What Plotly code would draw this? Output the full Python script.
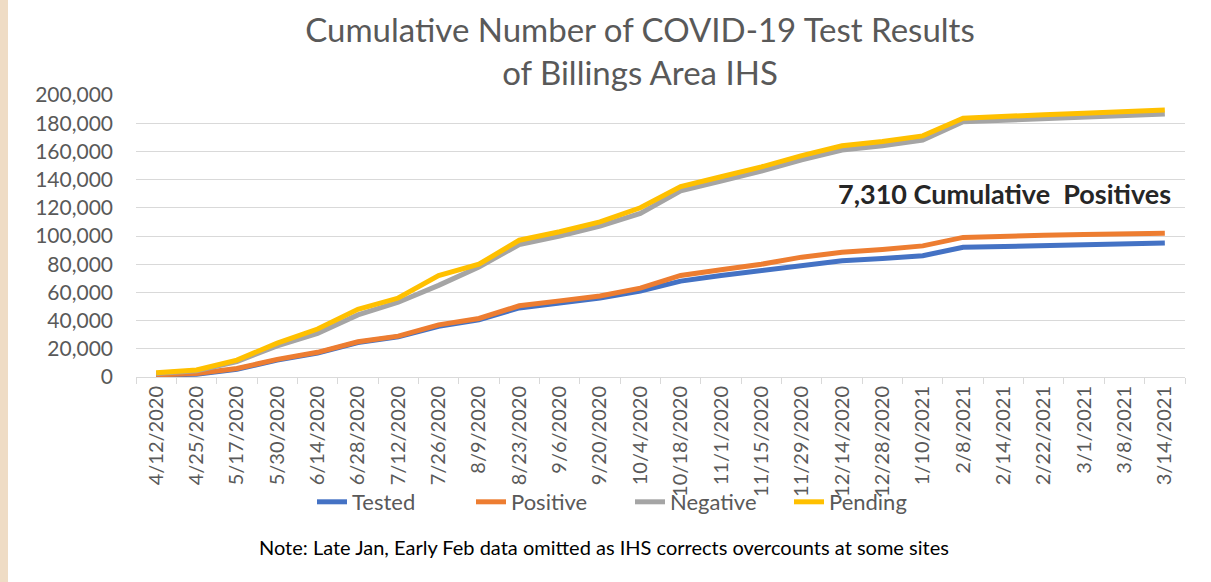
import plotly.graph_objects as go

dates = ["4/12/2020", "4/25/2020", "5/17/2020", "5/30/2020", "6/14/2020", "6/28/2020",
         "7/12/2020", "7/26/2020", "8/9/2020", "8/23/2020", "9/6/2020", "9/20/2020",
         "10/4/2020", "10/18/2020", "11/1/2020", "11/15/2020", "11/29/2020", "12/14/2020",
         "12/28/2020", "1/10/2021", "2/8/2021", "2/14/2021", "2/22/2021", "3/1/2021",
         "3/8/2021", "3/14/2021"]

tested = [1200, 2000, 5500, 12000, 17000, 24500, 28500, 36000, 40500, 49000, 52500, 56000,
          61000, 68000, 72000, 75500, 79500, 82500, 84000, 86000, 92000, 92700, 93300, 94000,
          94500, 95000]
positive = [1500, 2500, 6000, 12500, 17500, 25000, 29000, 37000, 41500, 50500, 54000, 57500,
            63000, 72000, 76000, 80000, 85000, 88500, 90500, 93000, 99000, 100000, 100500, 101000,
            101500, 102000]
negative = [2500, 4500, 11000, 22000, 31000, 44000, 53000, 65000, 78000, 94000, 100000, 107000,
            116000, 132000, 139000, 146000, 154000, 161000, 164000, 168000, 181000, 182000, 183000,
            184000, 185000, 186500]
pending = [3000, 5000, 12000, 24000, 34000, 48000, 56000, 72000, 80000, 97000, 103000, 110000,
           120000, 135000, 142000, 149000, 157000, 164000, 167000, 171000, 183500, 185000, 186000,
           187000, 188000, 189400]

series = [("Tested", tested, "#4472C4"), ("Positive", positive, "#ED7D31"),
          ("Negative", negative, "#A5A5A5"), ("Pending", pending, "#FFC000")]

FONT = "Lato, Carlito, Calibri, sans-serif"
GRAY = "#595959"

fig = go.Figure()
for name, vals, col in series:
    fig.add_trace(go.Scatter(x=dates, y=vals, name=name, mode="lines",
                             line=dict(color=col, width=5)))

L, R, T, B = 136, 26, 95, 205
W, H = 1211, 582
pw = W - L - R
ph = H - T - B

fig.update_layout(
    width=W, height=H,
    margin=dict(l=L, r=R, t=T, b=B, autoexpand=False),
    paper_bgcolor="white", plot_bgcolor="white",
    font=dict(family=FONT, color=GRAY),
    title=dict(text="Cumulative Number of COVID-19 Test Results<br>of Billings Area IHS",
               x=640 / W, xanchor="center", xref="container",
               y=1 - 42 / H, yanchor="middle", yref="container",
               font=dict(size=33, color=GRAY, family=FONT)),
    showlegend=True,
    legend=dict(orientation="h", x=(630 - L) / pw, xanchor="center",
                y=(377 - 502) / ph, yanchor="middle",
                font=dict(size=22, color=GRAY), entrywidth=114, entrywidthmode="pixels",
                bgcolor="rgba(0,0,0,0)"),
    xaxis=dict(type="category", tickangle=-90, tickfont=dict(size=20, color=GRAY),
               showgrid=False, showline=True, linecolor="#d9d9d9", linewidth=1,
               ticks="outside", tickson="boundaries", ticklen=6, tickcolor="#d9d9d9",
               range=[-0.5, len(dates) - 0.5], automargin=False),
    yaxis=dict(range=[0, 200000], dtick=20000, tickformat=",d",
               tickfont=dict(size=21, color=GRAY), showgrid=True,
               gridcolor="#d9d9d9", gridwidth=1, zeroline=False, ticks="",
               ticklabelstandoff=22, automargin=False),
)

fig.add_annotation(text="<b>7,310 Cumulative  Positives</b>", xref="paper", yref="y",
                   x=(1173 - L) / pw, y=129800, xanchor="right", yanchor="middle",
                   showarrow=False, font=dict(size=27, color="#262626", family=FONT))

fig.add_annotation(text="Note: Late Jan, Early Feb data omitted as IHS corrects overcounts at some sites",
                   xref="paper", yref="paper", x=(604 - L) / pw, y=(377 - 547) / ph,
                   xanchor="center", yanchor="middle", showarrow=False,
                   font=dict(size=20, color="black", family=FONT))

fig.add_shape(type="rect", xref="paper", yref="paper",
              x0=-L / pw, x1=(8 - L) / pw, y0=-B / ph, y1=(ph + T) / ph,
              fillcolor="#EFDCC5", line=dict(width=0), layer="below")

fig.write_html("out.html", config={"displayModeBar": False})

with open("out.html", "r", encoding="utf-8") as f:
    html = f.read()
html = html.replace("<head>", "<head><style>html,body{margin:0;padding:0;overflow:hidden;}</style>", 1)
with open("out.html", "w", encoding="utf-8") as f:
    f.write(html)
